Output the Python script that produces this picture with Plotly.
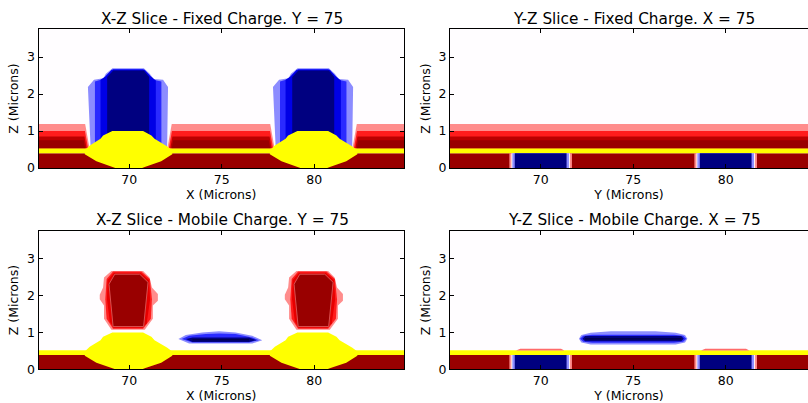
import plotly.graph_objects as go

# ---- tick labels / titles ----
x_ticks = [70, 75, 80]
z_ticks = [0, 1, 2, 3]
titles = ["X-Z Slice - Fixed Charge. Y = 75", "Y-Z Slice - Fixed Charge. X = 75",
          "X-Z Slice - Mobile Charge. Y = 75", "Y-Z Slice - Mobile Charge. X = 75"]

# ---- colours of the contour levels ----
NAVY, BLUE_D, BLUE, BLUE_L = "#000080", "#0000e6", "#2a2aff", "#8c8cff"
RED_D, RED_M, RED, RED_L = "#990000", "#bb0000", "#ff1c1c", "#ff8c8c"
YELLOW, WHITE = "#ffff00", "#fffdff"

island_centres = [70.0, 80.0]
lens_centre = 75.0

# yellow region: offset from island centre (microns), height (microns)
yellow_dx = [-0.91, 0.75, 1.20, 1.37, 2.04, 2.33, 2.33, 1.73, 0.84, 0.70, -0.75, -0.91, -1.77, -2.40, -2.40, -2.13, -1.55, -1.41]
yellow_z = [1.00, 1.00, 0.88, 0.79, 0.59, 0.48, 0.37, 0.18, 0.03, 0.0, 0.0, 0.03, 0.18, 0.37, 0.48, 0.61, 0.79, 0.88]

# fixed charge island, X-Z slice
fixed_outer_dx = [-2.08, -2.23, -1.90, -1.40, -1.26, -0.90, 0.79, 1.11, 1.33, 1.83, 2.10, 2.05]
fixed_outer_z = [0.5, 2.19, 2.39, 2.43, 2.55, 2.70, 2.70, 2.55, 2.41, 2.39, 2.19, 0.5]
fixed_blue_dx = [-1.85, -1.85, -1.40, -1.22, -0.86, 0.75, 1.08, 1.29, 1.74, 1.74]
fixed_blue_z = [0.5, 2.34, 2.41, 2.52, 2.68, 2.68, 2.53, 2.39, 2.34, 0.5]
fixed_mid_dx = [-1.55, -1.55, -1.26, -0.95, 0.84, 1.11, 1.44, 1.44]
fixed_mid_z = [0.5, 2.39, 2.48, 2.66, 2.66, 2.50, 2.37, 0.5]
fixed_core_dx = [-1.19, -1.19, -0.86, 0.79, 1.08, 1.08]
fixed_core_z = [0.5, 2.46, 2.64, 2.64, 2.46, 0.5]

# stacked oxide bands of the fixed charge: top of band, colour, end inset
band_tops = [1.19, 1.00, 0.85, 0.75]
band_colours = [RED_L, RED, RED_M, RED_D]
band_insets = [0.0, 0.08, 0.16, 0.24]
band_bottom = 0.53
band_half_top = 2.34
band_half_bottom = 2.10
band_centre_shift = -0.04

# mobile charge island, X-Z slice
mob_outer_dx = [-0.96, 0.75, 1.10, 1.23, 1.55, 1.55, 1.28, 1.28, 0.84, -0.96, -1.36, -1.36, -1.59, -1.59, -1.41, -1.36]
mob_outer_z = [2.67, 2.67, 2.49, 2.22, 2.04, 1.86, 1.73, 1.37, 1.07, 1.07, 1.37, 1.73, 1.90, 2.02, 2.22, 2.49]
mob_red_dx = [-0.87, 0.66, 1.12, 1.23, 1.17, 0.75, -0.87, -1.22, -1.29, -1.22]
mob_red_z = [2.65, 2.65, 2.45, 1.90, 1.37, 1.10, 1.10, 1.37, 1.90, 2.45]
mob_deep_dx = [-0.82, 0.62, 1.07, 1.13, 0.95, 0.72, -0.85, -1.05, -1.20, -1.17]
mob_deep_z = [2.62, 2.62, 2.42, 1.90, 1.25, 1.13, 1.13, 1.30, 1.90, 2.42]
mob_core_dx = [-0.78, 0.57, 1.02, 0.78, -0.87, -1.09]
mob_core_z = [2.58, 2.58, 2.36, 1.16, 1.16, 2.31]

# mobile charge lens between the islands, X-Z slice
lens_xz_outer_dx = [-2.34, -1.94, -1.05, -0.14, 0.75, 1.65, 2.19, 1.65, -1.76]
lens_xz_outer_z = [0.82, 0.93, 1.00, 1.035, 1.00, 0.91, 0.79, 0.70, 0.70]
lens_xz_blue_dx = [-2.16, -1.76, -0.86, -0.14, 0.75, 1.65, 2.01, 1.47, -1.58]
lens_xz_blue_z = [0.82, 0.91, 0.955, 0.97, 0.955, 0.86, 0.79, 0.73, 0.73]
lens_xz_core_dx = [-1.94, -1.58, 1.47, 1.87, 1.47, -1.58]
lens_xz_core_z = [0.82, 0.865, 0.865, 0.79, 0.74, 0.74]
lens_xz_deep_dx = [-1.58, 1.47, 1.47, -1.58]
lens_xz_deep_z = [0.82, 0.82, 0.78, 0.78]

# mobile charge lens, Y-Z slice
lens_yz_outer_dy = [-2.93, -2.80, -2.30, -1.20, 1.20, 2.30, 2.80, 2.93, 2.80, 2.30, -2.30, -2.80]
lens_yz_outer_z = [0.83, 0.93, 0.99, 1.035, 1.035, 0.99, 0.93, 0.83, 0.73, 0.675, 0.675, 0.73]
lens_yz_blue_dy = [-2.87, -2.70, -2.20, 2.20, 2.70, 2.87, 2.70, 2.20, -2.20, -2.70]
lens_yz_blue_z = [0.83, 0.91, 0.94, 0.94, 0.91, 0.83, 0.75, 0.72, 0.72, 0.75]
lens_yz_core_dy = [-2.74, -2.60, 2.60, 2.74, 2.60, -2.60]
lens_yz_core_z = [0.83, 0.90, 0.90, 0.83, 0.76, 0.76]
lens_yz_deep_dy = [-2.60, 2.60, 2.60, -2.60]
lens_yz_deep_z = [0.85, 0.85, 0.80, 0.80]

# buried blocks in the Y-Z slice: half widths and colours, widest first
block_half = [1.69, 1.58, 1.53, 1.40]
block_colours = [RED_L, WHITE, BLUE_L, NAVY]

# small red caps on the surface, mobile Y-Z slice
cap_dy = [-1.33, -1.10, 1.10, 1.28]
cap_z = [0.51, 0.56, 0.56, 0.51]

x_left, x_right_l = 65.1, 84.85
x_right_r = 84.45
z_top = 3.76

fixed_band_z = [0.40, 0.53]
mobile_band_z = [0.39, 0.52]

fig = go.Figure()


def poly(xs, ys, colour, ax, line_colour=None):
    fig.add_trace(go.Scatter(
        x=list(xs) + [xs[0]], y=list(ys) + [ys[0]], mode="lines", fill="toself",
        fillcolor=colour, line=dict(width=1 if line_colour else 0, color=line_colour or colour),
        hoverinfo="skip", showlegend=False, xaxis="x" + ax, yaxis="y" + ax))


def rect(x0, x1, z0, z1, colour, ax):
    poly([x0, x1, x1, x0], [z0, z0, z1, z1], colour, ax)


def island(dx, z, colour, ax, line_colour=None, shift=0.0):
    for c in island_centres:
        poly([c + shift + d for d in dx], z, colour, ax, line_colour)


def substrate(band, ax, right):
    rect(x_left, right, 0, band[0], RED_D, ax)
    rect(x_left, right, band[0], band[1], YELLOW, ax)


def edge(z):
    f = (z - band_bottom) / (band_tops[0] - band_bottom)
    return band_half_bottom + f * (band_half_top - band_half_bottom)


def xz_bands(ax):
    c1, c2 = [c + band_centre_shift for c in island_centres]
    for top, col, ins in zip(band_tops, band_colours, band_insets):
        eb, et = edge(band_bottom) + ins, edge(top) + ins
        poly([x_left, c1 - eb, c1 - et, x_left], [band_bottom, band_bottom, top, top], col, ax)
        poly([c1 + eb, c2 - eb, c2 - et, c1 + et], [band_bottom, band_bottom, top, top], col, ax)
        poly([c2 + eb, x_right_l, x_right_l, c2 + et], [band_bottom, band_bottom, top, top], col, ax)


def yz_blocks(band_top, ax):
    for c in island_centres:
        for hw, col in zip(block_half, block_colours):
            rect(c - hw, c + hw, 0, band_top, col, ax)


# --- X-Z fixed ---
xz_bands("")
substrate(fixed_band_z, "", x_right_l)
island(fixed_outer_dx, fixed_outer_z, BLUE_L, "")
island(fixed_blue_dx, fixed_blue_z, BLUE, "")
island(fixed_mid_dx, fixed_mid_z, BLUE_D, "")
island(fixed_core_dx, fixed_core_z, NAVY, "")
island(yellow_dx, yellow_z, YELLOW, "")

# --- Y-Z fixed ---
for top, col in zip(band_tops, band_colours):
    rect(x_left, x_right_r, band_bottom, top, col, "2")
substrate(fixed_band_z, "2", x_right_r)
yz_blocks(fixed_band_z[0], "2")

# --- X-Z mobile ---
substrate(mobile_band_z, "3", x_right_l)
island(mob_outer_dx, mob_outer_z, RED_L, "3")
island(mob_red_dx, mob_red_z, RED, "3")
island(mob_deep_dx, mob_deep_z, "#e60000", "3")
island(mob_core_dx, mob_core_z, RED_D, "3", line_colour="#d85050")
island(yellow_dx, yellow_z, YELLOW, "3")
for dx, z, col in [(lens_xz_outer_dx, lens_xz_outer_z, BLUE_L),
                   (lens_xz_blue_dx, lens_xz_blue_z, BLUE),
                   (lens_xz_core_dx, lens_xz_core_z, NAVY),
                   (lens_xz_deep_dx, lens_xz_deep_z, "#000050")]:
    poly([lens_centre + d for d in dx], z, col, "3")

# --- Y-Z mobile ---
substrate(mobile_band_z, "4", x_right_r)
yz_blocks(mobile_band_z[0], "4")
for c in island_centres:
    poly([c + d for d in cap_dy], cap_z, "#ff6a6a", "4")
for dy, z, col in [(lens_yz_outer_dy, lens_yz_outer_z, BLUE_L),
                   (lens_yz_blue_dy, lens_yz_blue_z, BLUE),
                   (lens_yz_core_dy, lens_yz_core_z, NAVY),
                   (lens_yz_deep_dy, lens_yz_deep_z, "#000050")]:
    poly([lens_centre + d for d in dy], z, col, "4")

W, H = 808, 403
FONT = "DejaVu Sans"
tick_font = dict(family=FONT, size=12.5, color="black")
label_font = dict(family=FONT, size=12.5, color="black")
panels = [("", 38.5, 404, 29, 168, "X (Microns)", x_right_l, True),
          ("2", 450, 808, 29, 168, "Y (Microns)", x_right_r, False),
          ("3", 38.5, 404, 230.7, 369.3, "X (Microns)", x_right_l, True),
          ("4", 450, 808, 230.7, 369.3, "Y (Microns)", x_right_r, False)]

layout = dict(width=W, height=H, margin=dict(l=0, r=0, t=0, b=0, autoexpand=False),
              paper_bgcolor="white", plot_bgcolor=WHITE, showlegend=False,
              hovermode=False, annotations=[])
for (ax, px0, px1, py0, py1, xl, xr, mir), ttl in zip(panels, titles):
    layout["xaxis" + ax] = dict(
        domain=[px0 / W, px1 / W], range=[x_left, xr], tickvals=x_ticks,
        ticks="inside", ticklen=4, tickcolor="black", mirror="allticks", showline=True,
        linecolor="black", linewidth=1, showgrid=False, zeroline=False, tickfont=tick_font,
        anchor="y" + ax, title=dict(text=xl, font=label_font, standoff=4))
    layout["yaxis" + ax] = dict(
        domain=[1 - py1 / H, 1 - py0 / H], range=[0, z_top], tickvals=z_ticks,
        ticks="inside", ticklen=4, tickcolor="black", mirror="allticks" if mir else False,
        showline=True, linecolor="black", linewidth=1, showgrid=False, zeroline=False,
        tickfont=tick_font, anchor="x" + ax,
        title=dict(text="Z (Microns)", font=label_font, standoff=5))
    layout["annotations"].append(dict(
        text=ttl, xref="paper", yref="paper", showarrow=False,
        x=((px0 + (818 if not mir else px1 + 2)) / 2) / W, y=1 - (py0 - 10.5) / H,
        xanchor="center", yanchor="middle", font=dict(family=FONT, size=15.3, color="black")))
fig.update_layout(**layout)

fig.write_html("out.html", config=dict(displayModeBar=False),
               post_script="document.body.style.margin='0';document.body.style.overflow='hidden';")
